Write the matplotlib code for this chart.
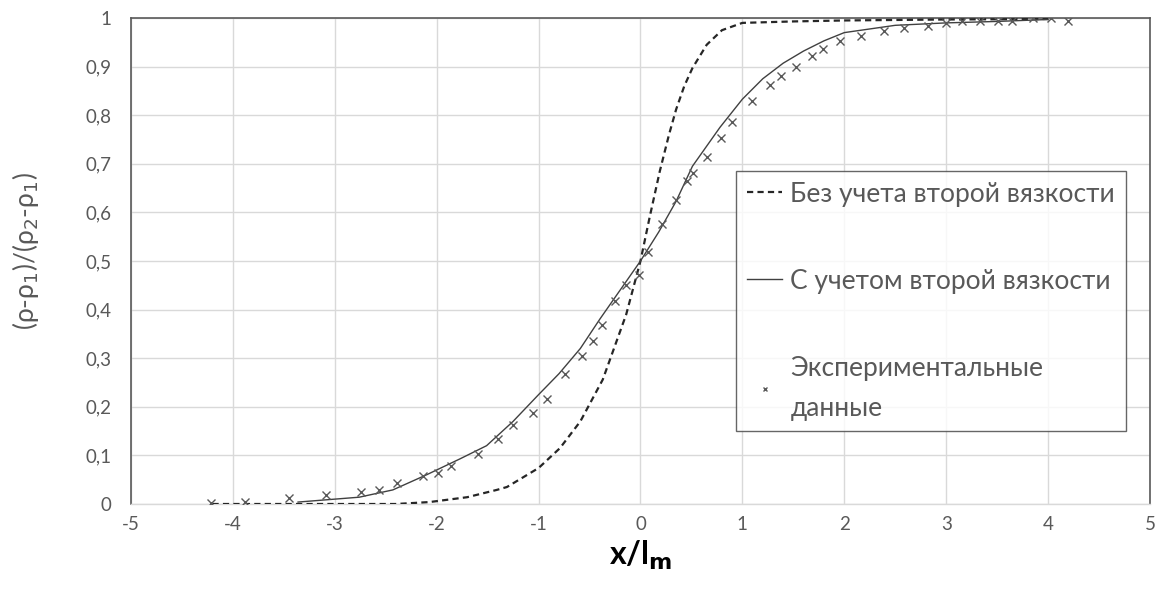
import matplotlib
matplotlib.use("Agg")
import matplotlib.pyplot as plt
from matplotlib.ticker import FuncFormatter, MultipleLocator

plt.rcParams['font.family'] = ['Lato', 'DejaVu Sans']
plt.rcParams['axes.unicode_minus'] = False

# Data
exp_x = [-4.21, -3.88, -3.45, -3.09, -2.74, -2.57, -2.39, -2.13, -1.99, -1.86,
         -1.59, -1.40, -1.25, -1.05, -0.92, -0.74, -0.57, -0.47, -0.38, -0.25,
         -0.14, -0.01, 0.07, 0.21, 0.35, 0.46, 0.52, 0.65, 0.79, 0.90,
         1.09, 1.27, 1.38, 1.53, 1.68, 1.79, 1.96, 2.16, 2.39, 2.59,
         2.82, 3.00, 3.16, 3.33, 3.51, 3.65, 3.85, 4.03, 4.20]
exp_y = [0.002, 0.004, 0.012, 0.019, 0.024, 0.029, 0.044, 0.058, 0.063, 0.078,
         0.103, 0.134, 0.163, 0.188, 0.217, 0.267, 0.305, 0.336, 0.369, 0.417,
         0.450, 0.472, 0.518, 0.577, 0.626, 0.664, 0.682, 0.715, 0.754, 0.787,
         0.829, 0.862, 0.880, 0.900, 0.922, 0.936, 0.952, 0.963, 0.973, 0.980,
         0.983, 0.990, 0.993, 0.993, 0.993, 0.993, 1.000, 1.000, 0.993]

with_x = [-3.36, -3.0, -2.76, -2.43, -2.1, -2.0, -1.77, -1.51, -1.25, -1.0,
          -0.8, -0.59, -0.4, 0.0, 0.18, 0.35, 0.51, 0.78, 1.0, 1.2,
          1.4, 1.6, 1.8, 2.0, 2.5, 3.0, 3.5, 4.0]
with_y = [0.004, 0.010, 0.014, 0.029, 0.060, 0.070, 0.093, 0.120, 0.170, 0.225,
          0.268, 0.320, 0.380, 0.500, 0.560, 0.623, 0.695, 0.775, 0.833, 0.875,
          0.907, 0.932, 0.953, 0.970, 0.985, 0.990, 0.993, 0.997]

without_x = [-4.2, -2.4, -2.07, -1.7, -1.41, -1.31, -1.0, -0.79, -0.59, -0.37,
             -0.14, 0.0, 0.09, 0.19, 0.28, 0.35, 0.43, 0.51, 0.65, 0.8,
             1.0, 1.5, 2.0, 3.0, 4.0]
without_y = [0.0, 0.0, 0.004, 0.014, 0.029, 0.035, 0.074, 0.115, 0.170, 0.256,
             0.390, 0.500, 0.590, 0.685, 0.760, 0.812, 0.860, 0.897, 0.945, 0.975,
             0.990, 0.993, 0.995, 0.997, 0.998]

labels = ["Без учета второй вязкости", "С учетом второй вязкости",
          "Экспериментальные\nданные"]

fig = plt.figure(figsize=(11.63, 6.01), dpi=100)
ax = fig.add_axes([0.1126, 0.1614, 0.8762, 0.8086])

ax.plot(without_x, without_y, color='#262626', lw=1.6, dashes=(2.8, 1.9),
        label=labels[0], zorder=3)
ax.plot(with_x, with_y, color='#404040', lw=1.0, label=labels[1], zorder=3)
ax.plot(exp_x, exp_y, ls='none', marker='x', ms=5.5, mew=1.0,
        color='#595959', label=labels[2], zorder=4)

ax.set_xlim(-5, 5)
ax.set_ylim(0, 1)
ax.xaxis.set_major_locator(MultipleLocator(1))
ax.yaxis.set_major_locator(MultipleLocator(0.1))

def yfmt(v, pos):
    s = f"{v:.1f}".rstrip('0').rstrip('.')
    return s.replace('.', ',')

ax.yaxis.set_major_formatter(FuncFormatter(yfmt))
ax.xaxis.set_major_formatter(FuncFormatter(lambda v, p: f"{int(round(v))}"))

ax.grid(True, color='#d9d9d9', lw=1.0)
ax.set_axisbelow(True)
ax.tick_params(length=0, labelsize=13.5, colors='#595959', pad=14)
ax.tick_params(axis='x', pad=9)
for s in ['left', 'top', 'right']:
    ax.spines[s].set_color('#595959')
    ax.spines[s].set_linewidth(1.2)
ax.spines['bottom'].set_color('#d9d9d9')
ax.spines['bottom'].set_linewidth(1.0)

ax.set_ylabel(r"(ρ-ρ$_1$)/(ρ$_2$-ρ$_1$)", fontsize=19, color='#595959', labelpad=30)
ax.yaxis.set_label_coords(-0.088, 0.52)
ax.set_xlabel(r"x/l$_{\mathbf{m}}$", fontsize=23, fontweight='bold', color='black', labelpad=4)

leg = ax.legend(loc='upper left', bbox_to_anchor=(0.594, 0.685), fontsize=19,
                frameon=True, fancybox=False, edgecolor='#404040',
                labelspacing=2.35, handlelength=1.35, handletextpad=0.3,
                borderpad=0.4, borderaxespad=0, markerscale=0.6)
leg.get_frame().set_linewidth(1.0)
for t in leg.get_texts():
    t.set_color('#595959')
    t.set_linespacing(1.75)

fig.savefig("out.png", dpi=100)
